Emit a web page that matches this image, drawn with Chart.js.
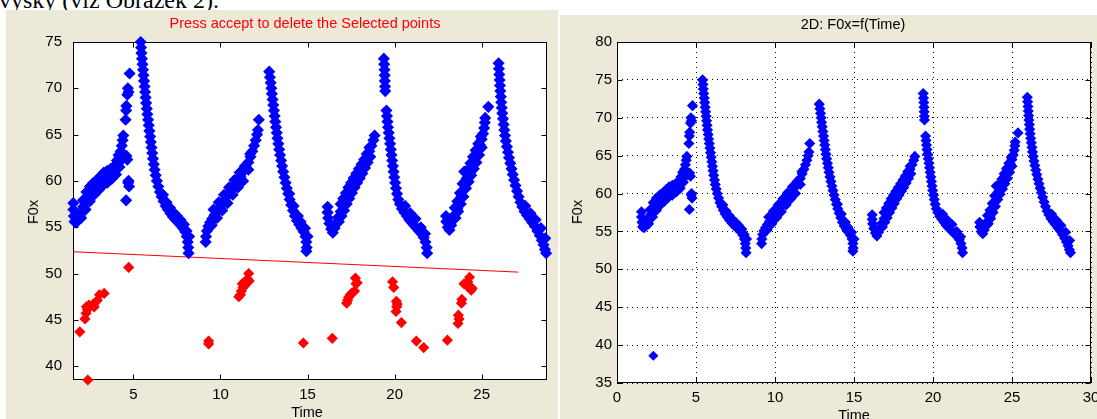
<!DOCTYPE html>
<html>
<head>
<meta charset="utf-8">
<title>F0x</title>
<script src="https://cdn.jsdelivr.net/npm/chart.js@4.4.1/dist/chart.umd.min.js"></script>
<style>
  body {
    margin: 0;
    width: 1097px;
    height: 419px;
    overflow: hidden;
    position: relative;
    background: #fff;
    font-family: "Liberation Sans", Arial, sans-serif;
  }
  .caption {
    position: absolute;
    left: -1px;
    top: -12px;
    font: 24px/24px "Liberation Serif", "Times New Roman", serif;
    white-space: nowrap;
  }
  .panel {
    position: absolute;
    background: #ece9d8;
  }
  #leftPanel { left: 6px; top: 10px; width: 552px; height: 409px; }
  #rightPanel { left: 560px; top: 15px; width: 537px; height: 404px; }
  canvas { display: block; }
  .label {
    position: absolute;
    font: 14.5px/16px "Liberation Sans", Arial, sans-serif;
    color: #000;
    white-space: nowrap;
    transform: translateX(-50%);
  }
  .label.red { color: #ff0000; }
  .label.ylab { transform: translate(-50%, -50%) rotate(-90deg); }
</style>
</head>
<body>
<div class="caption">výšky (viz Obrázek 2).</div>
<div class="panel" id="leftPanel"><canvas id="leftChart" width="552" height="409"></canvas></div>
<div class="panel" id="rightPanel"><canvas id="rightChart" width="537" height="404"></canvas></div>
<div class="label red" style="left:305px; top:15px">Press accept to delete the Selected points</div>
<div class="label" style="left:853px; top:16px">2D: F0x=f(Time)</div>
<div class="label ylab" style="left:33px; top:212px">F0x</div>
<div class="label ylab" style="left:577px; top:212px">F0x</div>
<div class="label" style="left:307px; top:404px">Time</div>
<div class="label" style="left:854px; top:407px">Time</div>

<script>
// F0x contour, one [time, F0x] pair per frame, split by voiced stretch
const cycle1 = [
  [1.55, 57.6], [1.55, 56.9], [1.58, 56.2], [1.62, 55.6], [1.72, 55.5], [1.82, 55.8],
  [1.92, 56.2], [2.02, 56.7], [2.12, 57.2], [2.22, 57.7], [2.32, 58.1], [2.44, 58.5],
  [2.56, 58.9], [2.7, 59.2], [2.85, 59.5], [3.0, 59.8], [3.15, 60.1], [3.3, 60.3],
  [3.45, 60.5], [3.6, 60.7], [3.75, 60.9], [3.9, 61.1], [4.02, 61.5], [4.12, 62.0],
  [4.2, 62.6], [4.27, 63.2], [4.33, 63.8], [4.38, 64.4], [4.42, 64.9],
  [2.1, 57.9], [2.3, 58.8], [2.5, 59.4], [2.7, 59.8], [2.9, 60.1], [3.1, 60.5],
  [3.3, 60.9], [3.5, 61.1], [3.7, 61.3], [3.9, 61.6], [4.05, 62.2], [4.15, 62.8],
  [1.7, 56.2], [2.0, 56.0], [2.25, 56.9], [2.5, 57.8], [2.75, 58.5], [3.0, 59.0],
  [3.25, 59.5], [3.5, 59.8], [3.75, 60.2], [4.0, 60.7], [4.2, 61.5], [4.3, 62.2],
  [4.55, 66.6], [4.58, 67.6], [4.6, 68.1], [4.65, 69.3], [4.68, 70.0], [4.72, 69.6],
  [4.78, 71.6], [4.6, 62.7], [4.65, 62.3], [4.72, 60.0], [4.75, 59.4], [4.7, 59.8],
  [4.58, 57.9],
  [5.42, 75.0], [5.44, 74.4], [5.46, 73.8], [5.49, 73.2], [5.52, 72.6], [5.55, 72.0],
  [5.58, 71.4], [5.61, 70.8], [5.64, 70.2], [5.67, 69.6], [5.7, 69.0], [5.73, 68.4],
  [5.77, 67.8], [5.8, 67.2], [5.84, 66.6], [5.88, 66.0], [5.92, 65.4], [5.96, 64.8],
  [6.0, 64.2], [6.04, 63.6], [6.08, 63.0], [6.12, 62.4], [6.17, 61.8], [6.22, 61.2],
  [6.28, 60.6], [6.35, 60.0], [6.43, 59.4], [6.52, 58.8], [6.62, 58.3], [6.73, 57.8],
  [6.85, 57.3], [6.98, 56.9], [7.12, 56.5], [7.27, 56.1], [7.42, 55.8], [7.57, 55.5],
  [7.72, 55.2], [7.85, 54.9], [7.97, 54.5], [8.06, 54.0], [8.12, 53.4], [8.15, 52.8],
  [8.17, 52.2],
  [6.7, 58.5], [6.9, 57.7], [7.1, 57.1], [7.3, 56.6], [7.5, 56.2], [7.7, 55.8],
  [7.9, 55.3], [8.05, 54.6], [8.2, 54.0]
];

const cycle2 = [
  [9.15, 53.4], [9.17, 54.0], [9.22, 54.6], [9.3, 55.1], [9.4, 55.5], [9.52, 55.9],
  [9.65, 56.3], [9.8, 56.7], [9.95, 57.1], [10.1, 57.5], [10.25, 57.9], [10.4, 58.4],
  [10.55, 58.8], [10.7, 59.3], [10.85, 59.7], [11.0, 60.1], [11.15, 60.5], [11.3, 61.0],
  [11.45, 61.5], [11.6, 62.0], [11.72, 62.6], [11.83, 63.2], [11.93, 63.8], [12.02, 64.4],
  [12.1, 65.0], [12.15, 65.5], [12.2, 66.6],
  [9.6, 56.9], [9.9, 57.7], [10.2, 58.5], [10.5, 59.3], [10.8, 60.1], [11.1, 60.9],
  [11.4, 61.6], [11.7, 62.9],
  [9.5, 55.2], [9.8, 56.0], [10.1, 56.8], [10.4, 57.6], [10.7, 58.5], [11.0, 59.3],
  [11.3, 60.0], [11.6, 61.2],
  [12.8, 71.8], [12.84, 71.2], [12.88, 70.6], [12.92, 70.0], [12.95, 69.4], [12.99, 68.8],
  [13.03, 68.2], [13.07, 67.6], [13.11, 67.0], [13.15, 66.4], [13.19, 65.8], [13.23, 65.2],
  [13.27, 64.6], [13.32, 64.0], [13.37, 63.4], [13.42, 62.8], [13.48, 62.2], [13.54, 61.6],
  [13.6, 61.0], [13.67, 60.4], [13.74, 59.8], [13.81, 59.2], [13.89, 58.6], [13.97, 58.0],
  [14.06, 57.4], [14.16, 56.8], [14.27, 56.2], [14.39, 55.7], [14.52, 55.3], [14.65, 54.9],
  [14.78, 54.5], [14.88, 54.0], [14.93, 53.4], [14.95, 52.8], [14.93, 52.4],
  [13.95, 58.6], [14.2, 57.3], [14.45, 56.2], [14.6, 55.6], [14.85, 54.9], [15.0, 54.0]
];

const cycle3 = [
  [16.15, 57.2], [16.15, 56.6], [16.18, 56.0], [16.25, 55.4], [16.35, 54.8], [16.45, 54.4],
  [16.55, 54.9], [16.65, 55.5], [16.77, 56.1], [16.9, 56.7], [17.03, 57.3], [17.16, 57.9],
  [17.3, 58.5], [17.44, 59.0], [17.58, 59.5], [17.72, 60.0], [17.86, 60.5], [18.0, 61.0],
  [18.14, 61.5], [18.28, 62.0], [18.42, 62.6], [18.55, 63.2], [18.67, 63.8], [18.78, 64.4],
  [18.85, 64.9],
  [16.9, 57.5], [17.05, 58.1], [17.2, 58.7], [17.35, 59.3], [17.5, 59.8], [17.65, 60.3],
  [17.8, 60.8], [17.95, 61.3], [18.1, 61.8], [18.25, 62.3], [18.4, 62.9], [18.55, 63.6],
  [16.8, 55.6], [16.95, 56.2], [17.1, 56.8], [17.25, 57.5], [17.4, 58.1], [17.55, 58.7],
  [17.7, 59.3], [17.85, 59.8], [18.0, 60.3], [18.15, 60.8], [18.3, 61.4], [18.45, 62.0],
  [18.6, 62.6],
  [19.38, 73.2], [19.4, 72.6], [19.42, 72.0], [19.43, 71.4], [19.44, 70.8], [19.45, 70.2],
  [19.46, 69.7], [19.53, 67.6], [19.56, 67.0], [19.59, 66.4], [19.62, 65.8], [19.66, 65.2],
  [19.7, 64.6], [19.74, 64.0], [19.78, 63.4], [19.82, 62.8], [19.86, 62.2], [19.9, 61.6],
  [19.94, 61.0], [19.98, 60.4], [20.03, 59.8], [20.08, 59.2], [20.14, 58.6], [20.21, 58.0],
  [20.3, 57.5], [20.42, 57.0], [20.56, 56.6], [20.7, 56.2], [20.84, 55.8], [20.98, 55.5],
  [21.12, 55.2], [21.26, 54.9], [21.4, 54.6], [21.54, 54.3], [21.67, 53.9], [21.77, 53.4],
  [21.84, 52.8], [21.87, 52.2],
  [20.6, 57.3], [20.9, 56.5], [21.2, 55.9], [21.5, 55.0], [21.75, 54.3]
];

const cycle4 = [
  [22.95, 56.2], [22.97, 55.6], [23.05, 55.0], [23.15, 54.7], [23.25, 55.2], [23.35, 55.8],
  [23.47, 56.4], [23.6, 57.0], [23.72, 57.6], [23.84, 58.3], [23.95, 59.0], [24.05, 59.7],
  [24.15, 60.3], [24.27, 60.9], [24.4, 61.5], [24.53, 62.1], [24.66, 62.7], [24.78, 63.3],
  [24.9, 63.9], [25.0, 64.5], [25.08, 65.1], [25.14, 65.7], [25.18, 66.3], [25.2, 66.8],
  [25.38, 68.0],
  [23.45, 57.1], [23.6, 57.8], [23.75, 58.7], [23.9, 59.7], [24.0, 61.0], [24.2, 61.2],
  [24.35, 61.9], [24.5, 62.6], [24.65, 63.3], [24.8, 64.0], [24.95, 64.8],
  [23.5, 56.0], [23.65, 56.7], [23.8, 57.5], [23.95, 58.3], [24.1, 59.2], [24.25, 59.9],
  [24.4, 60.6], [24.55, 61.3], [24.7, 62.0], [24.85, 62.8], [25.0, 63.6],
  [25.97, 72.7], [25.99, 72.1], [26.01, 71.5], [26.03, 70.9], [26.05, 70.3], [26.07, 69.7],
  [26.1, 69.1], [26.12, 68.5], [26.15, 67.9], [26.18, 67.3], [26.22, 66.7], [26.26, 66.1],
  [26.3, 65.5], [26.34, 64.9], [26.39, 64.3], [26.45, 63.7], [26.51, 63.1], [26.57, 62.5],
  [26.64, 61.9], [26.71, 61.3], [26.78, 60.7], [26.86, 60.1], [26.94, 59.5], [27.03, 58.9],
  [27.12, 58.3], [27.22, 57.7], [27.33, 57.2], [27.46, 56.7], [27.6, 56.3], [27.75, 55.9],
  [27.9, 55.5], [28.05, 55.1], [28.2, 54.6], [28.33, 54.1], [28.45, 53.6], [28.55, 53.1],
  [28.63, 52.6], [28.7, 52.2],
  [27.5, 57.3], [27.8, 56.5], [28.1, 55.8], [28.4, 54.9], [28.65, 53.8]
];

// frames below the threshold line (selected for deletion)
const selectedPoints = [
  [1.92, 43.7], [2.38, 38.5], [2.22, 45.1], [2.28, 45.7], [2.36, 46.1], [2.3, 46.4],
  [2.45, 46.6], [2.7, 46.7], [2.75, 46.4], [2.93, 47.1], [3.05, 47.7], [3.32, 47.85],
  [4.73, 50.66],
  [9.32, 42.4], [9.32, 42.7],
  [11.05, 47.5], [11.15, 47.7], [11.2, 48.1], [11.3, 48.5], [11.25, 48.9], [11.4, 48.7],
  [11.45, 49.2], [11.55, 49.4], [11.62, 50.0], [11.65, 49.2],
  [14.76, 42.5], [16.42, 43.0],
  [17.25, 46.8], [17.3, 47.1], [17.35, 47.4], [17.45, 47.7], [17.55, 47.9], [17.7, 48.1],
  [17.78, 48.9], [17.75, 49.5], [17.85, 49.0],
  [19.88, 49.1], [19.95, 48.5], [20.1, 47.0], [20.12, 46.4], [20.08, 45.9], [20.15, 46.7],
  [20.39, 44.7], [21.25, 42.7], [21.67, 42.0],
  [23.03, 42.8], [23.64, 44.6], [23.66, 45.5], [23.7, 45.1], [23.84, 46.8], [23.86, 47.2],
  [23.98, 48.9], [24.2, 49.1], [24.3, 49.6], [24.4, 48.2], [24.25, 48.5], [24.45, 48.4]
];

// the one low frame that stays in the cleaned contour
const keptLowPoint = [[2.3, 38.6]];

// deletion threshold, start and end
const thresholdTime = [1.53, 27.1];
const thresholdF0 = [52.35, 50.15];

const leftTimeTicks = [5, 10, 15, 20, 25];
const leftF0Ticks = [40, 45, 50, 55, 60, 65, 70, 75];
const rightTimeTicks = [0, 5, 10, 15, 20, 25, 30];
const rightF0Ticks = [35, 40, 45, 50, 55, 60, 65, 70, 75, 80];

const toXY = (pts) => pts.map(([x, y]) => ({ x, y }));
const contour = [...cycle1, ...cycle2, ...cycle3, ...cycle4];
const thresholdLine = thresholdTime.map((t, i) => ({ x: t, y: thresholdF0[i] }));

const tickFont = { family: "'Liberation Sans', Arial, sans-serif", size: 15 };

function fixedTicks(values) {
  return (scale) => {
    scale.ticks = values.map((v) => ({ value: v }));
  };
}

function fixedSize(size) {
  return (scale) => {
    if (scale.isHorizontal()) scale.height = size;
    else scale.width = size;
    scale.paddingLeft = 0;
    scale.paddingRight = 0;
    scale.paddingTop = 0;
    scale.paddingBottom = 0;
  };
}

// white plot area, black box and inward tick marks on all four sides
const plotBox = {
  id: "plotBox",
  beforeDraw(chart) {
    const { ctx, chartArea: a } = chart;
    ctx.save();
    ctx.fillStyle = "#fff";
    ctx.fillRect(a.left, a.top, a.right - a.left, a.bottom - a.top);
    ctx.restore();
  },
  beforeDatasetsDraw(chart) {
    const { ctx, chartArea: a, scales } = chart;
    const left = Math.round(a.left) + 0.5;
    const right = Math.round(a.right) - 0.5;
    const top = Math.round(a.top) + 0.5;
    const bottom = Math.round(a.bottom) - 0.5;
    const len = 5;
    ctx.save();
    ctx.strokeStyle = "#000";
    ctx.lineWidth = 1;
    ctx.strokeRect(left, top, right - left, bottom - top);
    ctx.beginPath();
    scales.x.ticks.forEach((t) => {
      const px = Math.round(scales.x.getPixelForValue(t.value)) + 0.5;
      ctx.moveTo(px, bottom);
      ctx.lineTo(px, bottom - len);
      ctx.moveTo(px, top);
      ctx.lineTo(px, top + len);
    });
    scales.y.ticks.forEach((t) => {
      const py = Math.round(scales.y.getPixelForValue(t.value)) + 0.5;
      ctx.moveTo(left, py);
      ctx.lineTo(left + len, py);
      ctx.moveTo(right, py);
      ctx.lineTo(right - len, py);
    });
    ctx.stroke();
    ctx.restore();
  },
};

function markerSet(points, color, radius) {
  return {
    data: toXY(points),
    backgroundColor: color,
    borderColor: color,
    borderWidth: 1.5,
    pointStyle: "rectRot",
    pointRadius: radius,
    pointHoverRadius: radius,
    clip: 7,
  };
}

function axes(o) {
  const common = {
    type: "linear",
    border: { display: false, dash: o.dash },
    grid: {
      display: o.grid,
      drawTicks: false,
      color: "#000",
      lineWidth: 1,
    },
  };
  return {
    x: {
      ...common,
      min: o.xMin,
      max: o.xMax,
      afterBuildTicks: fixedTicks(o.xTicks),
      afterFit: fixedSize(30),
      ticks: { padding: o.xPad, font: tickFont, color: "#000", maxRotation: 0, autoSkip: false },
    },
    y: {
      ...common,
      min: o.yMin,
      max: o.yMax,
      afterBuildTicks: fixedTicks(o.yTicks),
      afterFit: fixedSize(40),
      ticks: { padding: o.yPad, font: tickFont, color: "#000", autoSkip: false },
    },
  };
}

const baseOptions = {
  responsive: false,
  animation: false,
  events: [],
  plugins: { legend: { display: false }, tooltip: { enabled: false } },
};

new Chart(document.getElementById("leftChart"), {
  type: "scatter",
  data: {
    datasets: [
      markerSet(contour, "#0000ff", 5),
      markerSet(selectedPoints, "#ff0000", 4.5),
      {
        type: "line",
        data: thresholdLine,
        borderColor: "#ff0000",
        borderWidth: 1,
        pointRadius: 0,
        fill: false,
      },
    ],
  },
  options: {
    ...baseOptions,
    layout: { padding: { left: 27, top: 32, right: 11, bottom: 9 } },
    scales: axes({
      xMin: 1.53, xMax: 28.75, xTicks: leftTimeTicks, xPad: 6,
      yMin: 38.5, yMax: 75, yTicks: leftF0Ticks, yPad: 11,
      grid: false, dash: [],
    }),
  },
  plugins: [plotBox],
});

new Chart(document.getElementById("rightChart"), {
  type: "scatter",
  data: {
    datasets: [
      markerSet(contour, "#0000ff", 4.5),
      markerSet(keptLowPoint, "#0000ff", 4),
    ],
  },
  options: {
    ...baseOptions,
    layout: { padding: { left: 17, top: 27, right: 1, bottom: 6 } },
    scales: axes({
      xMin: 0, xMax: 30, xTicks: rightTimeTicks, xPad: 6,
      yMin: 35, yMax: 80, yTicks: rightF0Ticks, yPad: 5,
      grid: true, dash: [1, 4],
    }),
  },
  plugins: [plotBox],
});
</script>
</body>
</html>
